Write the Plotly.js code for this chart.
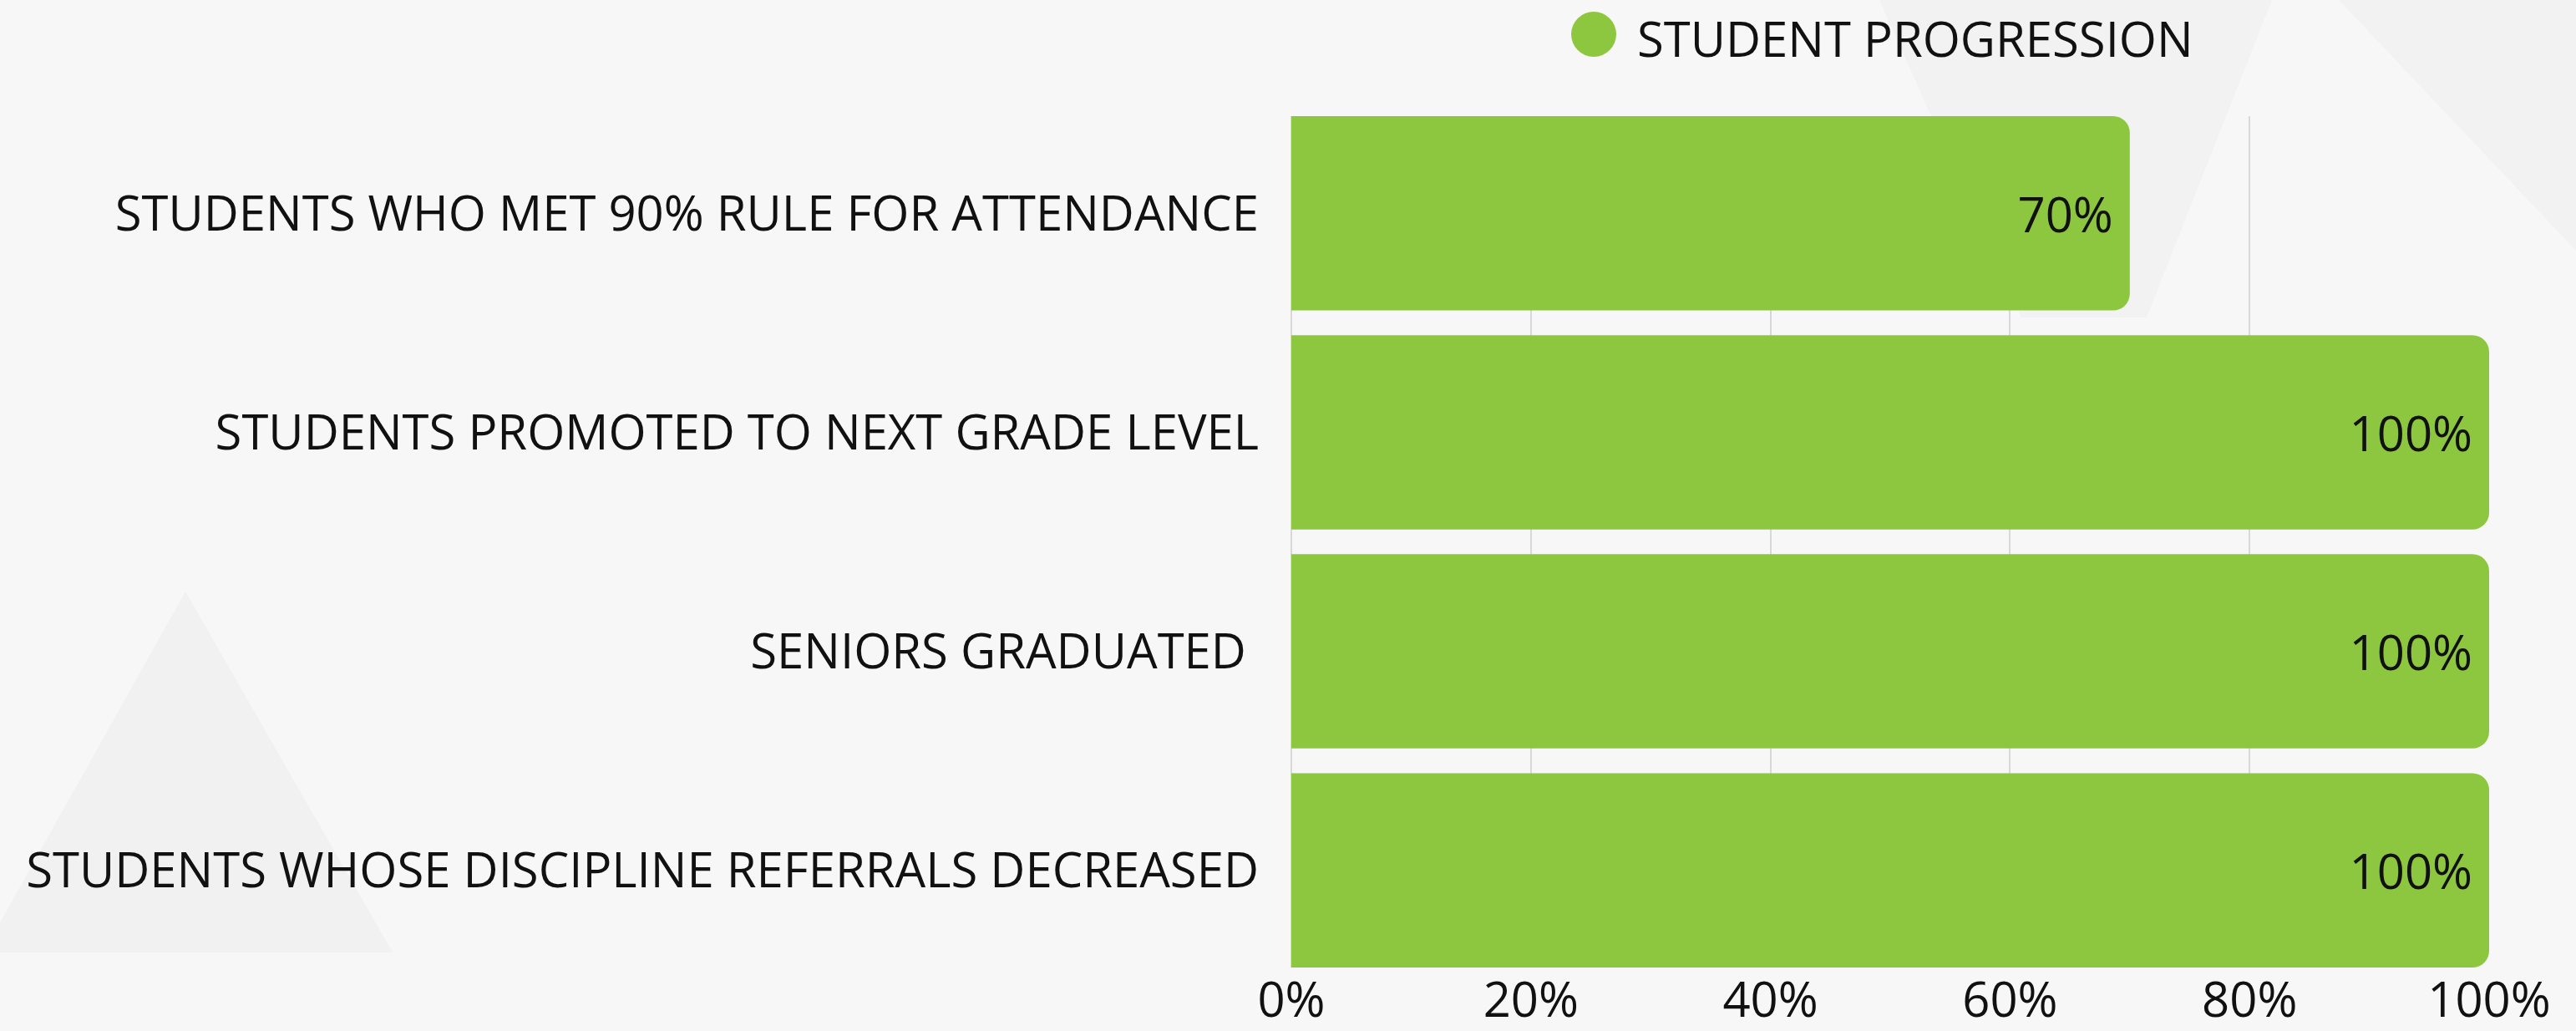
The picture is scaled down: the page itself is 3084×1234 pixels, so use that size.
<!DOCTYPE html>
<html>
<head>
<meta charset="utf-8">
<script src="https://cdn.plot.ly/plotly-3.0.1.min.js"></script>
<style>
  html, body { margin: 0; padding: 0; background: #f7f7f7; }
  #chart { width: 3084px; height: 1234px; }
</style>
</head>
<body>
<div id="chart"></div>
<script>
const categories = [
  "STUDENTS WHO MET 90% RULE FOR ATTENDANCE",
  "STUDENTS PROMOTED TO NEXT GRADE LEVEL",
  "SENIORS GRADUATED ",
  "STUDENTS WHOSE DISCIPLINE REFERRALS DECREASED"
];
const values = [70, 100, 100, 100];
const seriesName = "STUDENT PROGRESSION";
const tickValues = [0, 20, 40, 60, 80, 100];

const FONT = "Open Sans, Noto Sans, DejaVu Sans, sans-serif";
const FS = 58;
const GREEN = "#8dc63f";
const BARGAP = 0.113;

// plot area: x 1546..2980, y 139..1158 (pixels of the 3084x1234 figure)
const L = 1546, R = 2980, T = 139, B = 1158;
const W = R - L, H = B - T;
const px = x => (x - L) / W;          // figure px -> paper x
const py = y => (B - y) / H;          // figure px -> paper y

const trace = {
  type: "bar",
  orientation: "h",
  y: categories,
  x: values,
  name: seriesName,
  marker: { color: GREEN, cornerradius: 20 },
  text: values.map(v => v + "%"),
  textposition: "inside",
  insidetextanchor: "end",
  constraintext: "none",
  textfont: { family: FONT, size: FS, color: "#111111" },
  hoverinfo: "none",
  showlegend: false
};

function tri(pts, color) {
  return {
    type: "path", xref: "paper", yref: "paper", layer: "below",
    path: "M " + pts.map(p => px(p[0]).toFixed(4) + " " + py(p[1]).toFixed(4)).join(" L ") + " Z",
    fillcolor: color, line: { width: 0 }
  };
}

const layout = {
  width: 3084,
  height: 1234,
  paper_bgcolor: "#f7f7f7",
  plot_bgcolor: "rgba(0,0,0,0)",
  margin: { l: L, r: 3084 - R, t: T, b: 1234 - B },
  bargap: BARGAP,
  font: { family: FONT, color: "#111111", size: FS },
  xaxis: {
    range: [0, 100],
    tickvals: tickValues,
    ticktext: tickValues.map(v => v + "%"),
    showgrid: true,
    gridcolor: "#d8d8d8",
    gridwidth: 2,
    zeroline: true,
    zerolinecolor: "#d8d8d8",
    zerolinewidth: 2,
    showline: false,
    ticks: "",
    tickfont: { family: FONT, size: FS, color: "#111111" },
    ticklabelstandoff: 0
  },
  yaxis: {
    range: [3.5 - BARGAP / 2, -0.5 + BARGAP / 2],
    showgrid: false,
    zeroline: false,
    showline: false,
    ticks: "",
    tickfont: { family: FONT, size: FS, color: "#111111" },
    ticklabelstandoff: 38
  },
  shapes: [
    tri([[-20, 1140], [222, 708], [470, 1140]], "#f1f1f1"),
    tri([[2250, 0], [2720, 0], [2570, 380], [2420, 380]], "#f2f2f2"),
    tri([[2800, 0], [3084, 0], [3084, 300]], "#f2f2f2"),
    {
      type: "circle", xref: "paper", yref: "paper", xsizemode: "pixel", ysizemode: "pixel",
      xanchor: px(1908), yanchor: py(41), x0: -27, x1: 27, y0: -27, y1: 27,
      fillcolor: GREEN, line: { width: 0 }
    }
  ],
  annotations: [
    {
      xref: "paper", yref: "paper", x: px(1958), y: py(45), xanchor: "left", yanchor: "middle",
      text: seriesName, showarrow: false, font: { family: FONT, size: FS, color: "#111111" }
    }
  ]
};

Plotly.newPlot("chart", [trace], layout, { displayModeBar: false, staticPlot: true });
</script>
</body>
</html>
